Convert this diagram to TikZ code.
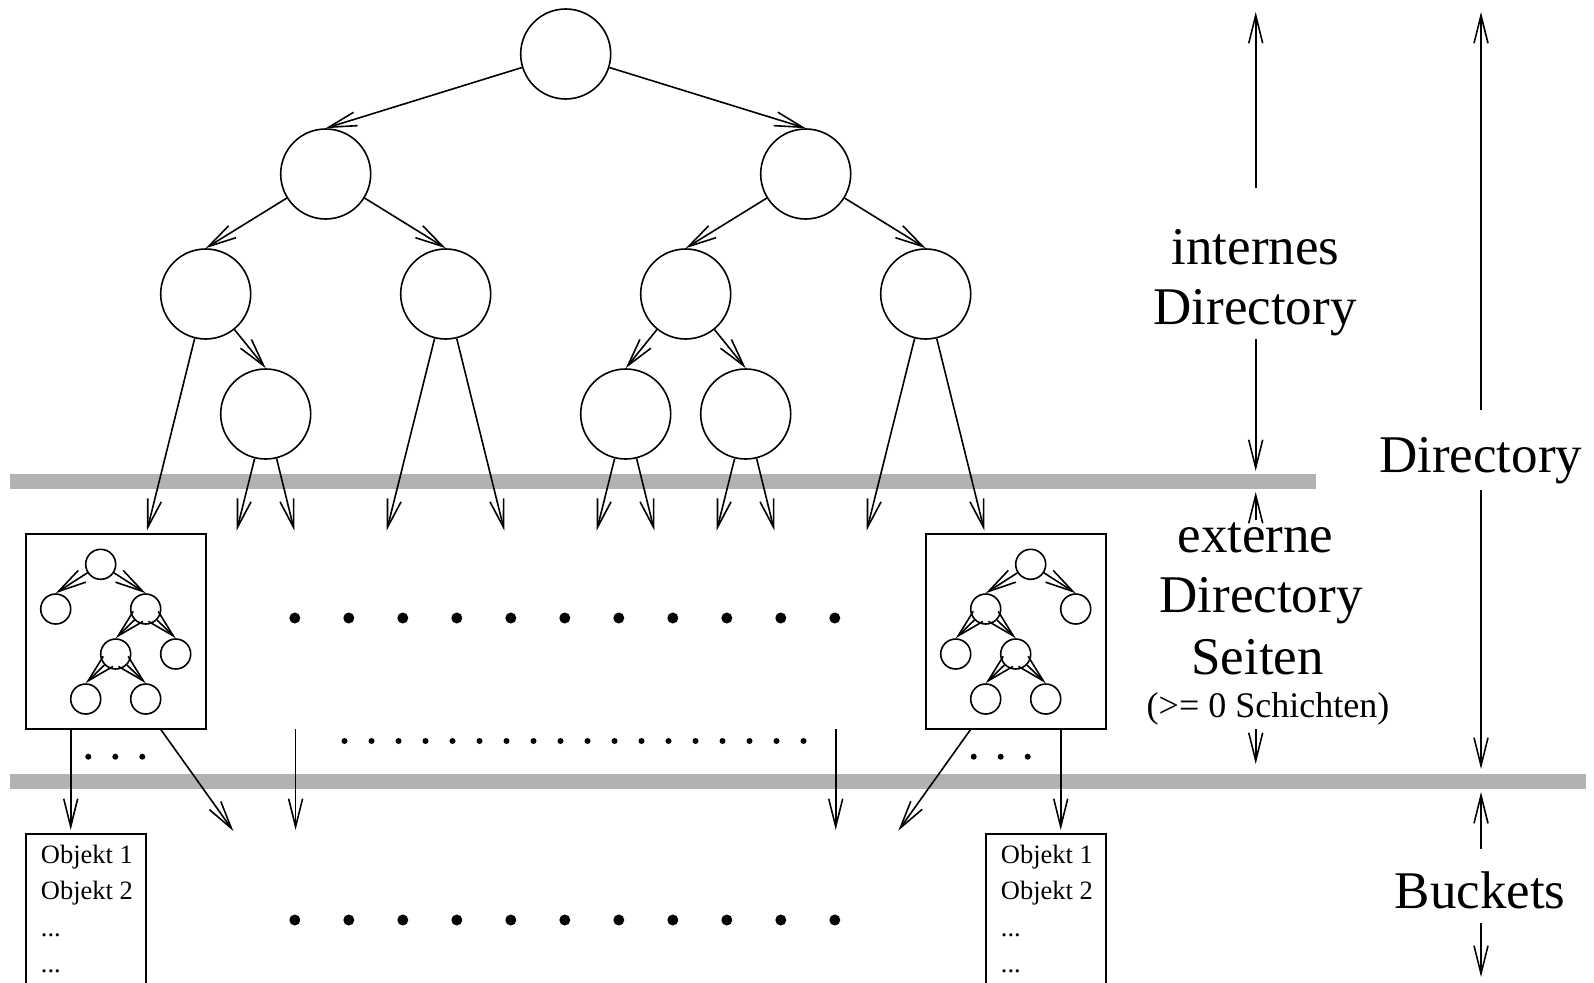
\documentclass[tikz,border=0pt]{standalone}
\usepackage{fontspec}
\setmainfont{Liberation Serif}
\usetikzlibrary{arrows.meta}
\definecolor{barc}{gray}{0.70}
\begin{document}
\begin{tikzpicture}[x=1pt,y=-1pt,
  lw/.style={line width=1.6pt},
  big/.style={circle,draw,line width=1.6pt,minimum size=90pt,inner sep=0pt},
  small/.style={circle,draw,line width=1.6pt,minimum size=30pt,inner sep=0pt},
  arr/.style={line width=1.6pt,-{Straight Barb[length=28pt,width=14pt]}},
  pagebox/.style={draw,line width=1.6pt,minimum width=180pt,minimum height=195pt,inner sep=0pt},
  bucketbox/.style={draw,line width=1.6pt,minimum width=120pt,minimum height=220pt,inner sep=0pt},
  lab/.style={anchor=base,inner sep=0pt,font=\fontsize{53}{60}\selectfont},
  slab/.style={anchor=base,inner sep=0pt,font=\fontsize{36}{40}\selectfont},
  obj/.style={anchor=base west,inner sep=0pt,font=\fontsize{26.5}{36}\selectfont},
]
\useasboundingbox (0,0) rectangle (1594,982);
\clip (0,0) rectangle (1594,982);

% grey layer bars
\fill[barc] (10,474.3) rectangle (1316,489.3);
\fill[barc] (10,774) rectangle (1586,789);

% internal directory tree
\node[big] (n0) at (565.7,54) {};
\node[big] (n1) at (325.7,174) {};
\node[big] (n2) at (805.7,174) {};
\node[big] (n3) at (205.7,294) {};
\node[big] (n4) at (445.7,294) {};
\node[big] (n5) at (685.7,294) {};
\node[big] (n6) at (925.7,294) {};
\node[big] (n7) at (265.7,414) {};
\node[big] (n8) at (625.7,414) {};
\node[big] (n9) at (745.7,414) {};

\draw[arr] (n0) -- (n1.north);
\draw[arr] (n0) -- (n2.north);
\draw[arr] (n1) -- (n3.north);
\draw[arr] (n1) -- (n4.north);
\draw[arr] (n2) -- (n5.north);
\draw[arr] (n2) -- (n6.north);
\draw[arr] (n3) -- (n7.north);
\draw[arr] (n5) -- (n8.north);
\draw[arr] (n5) -- (n9.north);

% external directory pages
\node[pagebox] (boxL) at (115.7,631.5) {};
\node[pagebox] (boxR) at (1015.7,631.5) {};

% leaf pointers
\coordinate (t1) at (147,530.5);
\coordinate (t2) at (236.7,530.5);
\coordinate (t3) at (294.3,530.5);
\coordinate (t4) at (386.7,530.5);
\coordinate (t5) at (504.3,530.5);
\coordinate (t6) at (596.7,530.5);
\coordinate (t7) at (654.3,530.5);
\coordinate (t8) at (716.7,530.5);
\coordinate (t9) at (774.3,530.5);
\coordinate (t10) at (866.7,530.5);
\coordinate (t11) at (984.3,530.5);
\draw[arr] (n3) -- (t1);
\draw[arr] (n7) -- (t2);
\draw[arr] (n7) -- (t3);
\draw[arr] (n4) -- (t4);
\draw[arr] (n4) -- (t5);
\draw[arr] (n8) -- (t6);
\draw[arr] (n8) -- (t7);
\draw[arr] (n9) -- (t8);
\draw[arr] (n9) -- (t9);
\draw[arr] (n6) -- (t10);
\draw[arr] (n6) -- (t11);

% small tree in left page
\node[small] (la) at (100.7,564.3) {};
\node[small] (lb) at (55.7,609) {};
\node[small] (lc) at (145.7,609) {};
\node[small] (ld) at (115.7,654) {};
\node[small] (le) at (175.7,654) {};
\node[small] (lf) at (85.7,699) {};
\node[small] (lg) at (145.7,699) {};
\draw[arr] (la) -- (lb.north);
\draw[arr] (la) -- (lc.north);
\draw[arr] (lc) -- (ld.north);
\draw[arr] (lc) -- (le.north);
\draw[arr] (ld) -- (lf.north);
\draw[arr] (ld) -- (lg.north);

% small tree in right page
\node[small] (ra) at (1030.7,564.3) {};
\node[small] (rb) at (985.7,609) {};
\node[small] (rc) at (1075.7,609) {};
\node[small] (rd) at (955.7,654) {};
\node[small] (re) at (1015.7,654) {};
\node[small] (rf) at (985.7,699) {};
\node[small] (rg) at (1045.7,699) {};
\draw[arr] (ra) -- (rb.north);
\draw[arr] (ra) -- (rc.north);
\draw[arr] (rb) -- (rd.north);
\draw[arr] (rb) -- (re.north);
\draw[arr] (re) -- (rf.north);
\draw[arr] (re) -- (rg.north);

% dot rows
\foreach \i in {0,...,10} \fill (294.8+54*\i,618) circle (5.5pt);
\foreach \i in {0,...,10} \fill (294.8+54*\i,920) circle (5.5pt);
\foreach \i in {0,...,17} \fill (344.5+27*\i,741) circle (3pt);
\foreach \i in {0,1,2} \fill (88.3+27*\i,756.7) circle (3pt);
\foreach \i in {0,1,2} \fill (973.7+27*\i,756.7) circle (3pt);

% buckets
\node[bucketbox] (bucketL) at (85.7,944) {};
\node[bucketbox] (bucketR) at (1045.7,944) {};
\node[obj] (oL1) at (40.7,863.5) {Objekt 1};
\node[obj] (oL2) at (40.7,899) {Objekt 2};
\node[obj] (oL3) at (40.7,936.5) {...};
\node[obj] (oL4) at (40.7,972) {...};
\node[obj] (oR1) at (1000.7,863.5) {Objekt 1};
\node[obj] (oR2) at (1000.7,899) {Objekt 2};
\node[obj] (oR3) at (1000.7,936.5) {...};
\node[obj] (oR4) at (1000.7,972) {...};

% pointers to buckets
\coordinate (b1e) at (70.7,830);
\coordinate (b2s) at (160.7,729.3);
\coordinate (b2e) at (233.3,831);
\coordinate (b3s) at (295.6,729.3);
\coordinate (b3e) at (295.6,830);
\coordinate (b4s) at (835.7,729.3);
\coordinate (b4e) at (835.7,830);
\coordinate (b5s) at (970.7,729.3);
\coordinate (b5e) at (898.3,830.7);
\coordinate (b6e) at (1060.7,830);
\draw[arr] (b1e |- boxL.south) -- (b1e);
\draw[arr] (b2s) -- (b2e);
\draw[arr] (b3s) -- (b3e);
\draw[arr] (b4s) -- (b4e);
\draw[arr] (b5s) -- (b5e);
\draw[arr] (b6e |- boxR.south) -- (b6e);

% labels on the right
\node[lab] (intA) at (1255.5,264) {internes};
\node[lab] (intB) at (1255,324) {Directory};
\node[lab] (extA) at (1255.5,552) {externe};
\node[lab] (extB) at (1261,612) {Directory};
\node[lab] (extC) at (1257.5,674) {Seiten};
\node[slab] (extD) at (1268,717) {(>= 0 Schichten)};
\node[lab] (dirR) at (1480.7,472) {Directory};
\node[lab] (buck) at (1480.2,908) {Buckets};

\coordinate (a1s) at (1255.7,188);
\coordinate (a1e) at (1255.7,12);
\coordinate (a2s) at (1255.7,339);
\coordinate (a2e) at (1255.7,471);
\coordinate (a3s) at (1255.7,520);
\coordinate (a3e) at (1255.7,492);
\coordinate (a4s) at (1255.7,729);
\coordinate (a4e) at (1255.7,764);
\coordinate (a5s) at (1481,410);
\coordinate (a5e) at (1481,12);
\coordinate (a6s) at (1481,490);
\coordinate (a6e) at (1481,769);
\coordinate (a7s) at (1481,849);
\coordinate (a7e) at (1481,792);
\coordinate (a8s) at (1481,923);
\coordinate (a8e) at (1481,977);
\draw[arr] (a1s) -- (a1e);
\draw[arr] (a2s) -- (a2e);
\draw[arr] (a3s) -- (a3e);
\draw[arr] (a4s) -- (a4e);
\draw[arr] (a5s) -- (a5e);
\draw[arr] (a6s) -- (a6e);
\draw[arr] (a7s) -- (a7e);
\draw[arr] (a8s) -- (a8e);
\end{tikzpicture}
\end{document}
